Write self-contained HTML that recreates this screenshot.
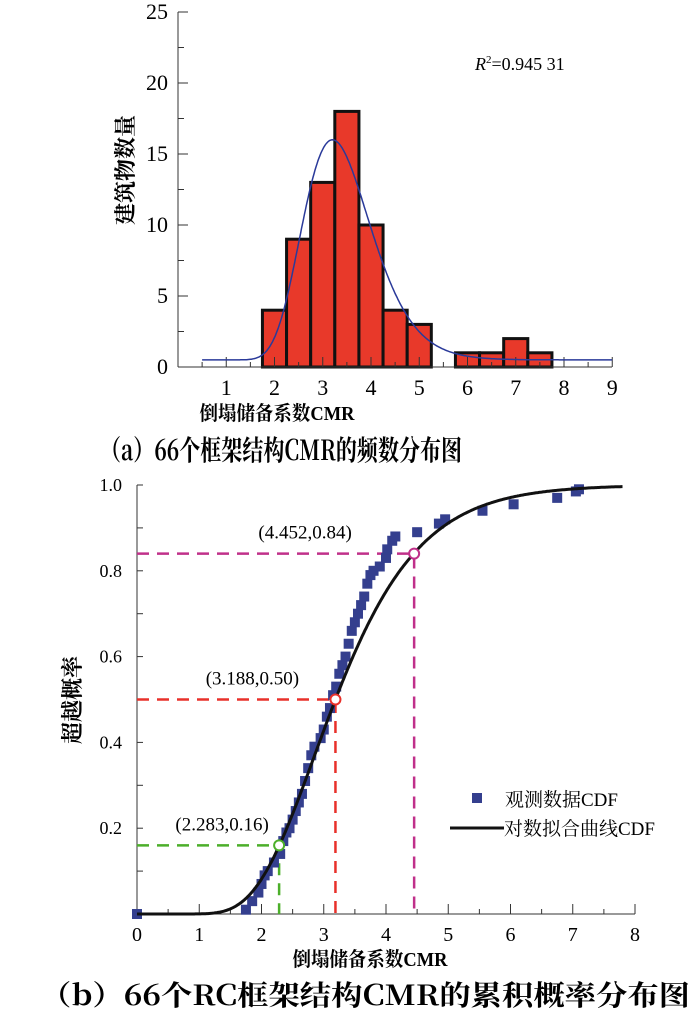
<!DOCTYPE html>
<html><head><meta charset="utf-8"><style>
body{margin:0;background:#fff;}
svg{display:block;font-family:"Liberation Serif","Noto Serif CJK SC",serif;}
</style></head><body>
<svg id="svg" width="700" height="1017" viewBox="0 0 700 1017" xmlns="http://www.w3.org/2000/svg">
<g id="top"></g>
<g id="bot"></g>
<text x="133" y="170" font-size="22" font-weight="bold" text-anchor="middle" transform="rotate(-90 133 170)" font-family="Noto Serif CJK SC,serif">建筑物数量</text>
<text x="277" y="420" font-size="20" text-anchor="middle" textLength="155" lengthAdjust="spacingAndGlyphs" font-weight="bold">倒塌储备系数CMR</text>
<text x="281" y="460" font-size="28" text-anchor="middle" textLength="362" lengthAdjust="spacingAndGlyphs" font-weight="bold" font-family="Noto Serif CJK SC,serif">（a）66个框架结构CMR的频数分布图</text>
<text x="475" y="70" font-size="18"><tspan font-style="italic">R</tspan><tspan font-size="11" dy="-7">2</tspan><tspan dy="7">=0.945 31</tspan></text>
<text x="80" y="700" font-size="22" font-weight="bold" text-anchor="middle" transform="rotate(-90 80 700)" font-family="Noto Serif CJK SC,serif">超越概率</text>
<text x="370" y="966" font-size="20" text-anchor="middle" textLength="155" lengthAdjust="spacingAndGlyphs" font-weight="bold">倒塌储备系数CMR</text>
<text x="365" y="1005" font-size="28" text-anchor="middle" textLength="650" lengthAdjust="spacingAndGlyphs" font-weight="bold" font-family="Noto Serif CJK SC,serif">（b）66个RC框架结构CMR的累积概率分布图</text>
</svg>
<script>
const NS="http://www.w3.org/2000/svg";
// histogram data
const binStarts=[1.75,2.25,2.75,3.25,3.75,4.25,4.75,5.75,6.25,6.75,7.25];
const binCounts=[4,9,13,18,10,4,3,1,1,2,1];
const binWidth=0.5;
const histXTicks=[1,2,3,4,5,6,7,8,9];
const histYTicks=[0,5,10,15,20,25];
const fitPeak=16;
const fitMedian=3.36, fitSigma=0.22, fitBase=0.5;
// cdf data
const obsX=[0,1.75,1.85,1.95,2.0,2.05,2.1,2.2,2.3,2.35,2.4,2.45,2.5,2.55,2.6,2.65,2.7,2.75,2.8,2.85,2.95,3.0,3.05,3.1,3.15,3.2,3.25,3.3,3.35,3.4,3.45,3.5,3.55,3.6,3.65,3.7,3.75,3.8,3.9,4.0,4.02,4.1,4.15,4.5,4.85,4.95,5.55,6.05,6.75,7.05,7.1];
const obsY=[0,0.01,0.03,0.05,0.07,0.09,0.1,0.12,0.14,0.17,0.19,0.2,0.22,0.24,0.26,0.28,0.31,0.34,0.37,0.39,0.41,0.43,0.46,0.48,0.51,0.53,0.56,0.58,0.6,0.63,0.66,0.68,0.7,0.72,0.74,0.77,0.79,0.8,0.81,0.83,0.85,0.87,0.88,0.89,0.91,0.92,0.94,0.955,0.97,0.985,0.99];
const cdfXTicks=[0,1,2,3,4,5,6,7,8];
const cdfYTicks=[0.2,0.4,0.6,0.8,1.0];
const median=3.188, sigma=0.334;
const markX=[2.283,3.188,4.452];
const markY=[0.16,0.50,0.84];
const markColors=["#4caf2a","#e8302a","#c0308a"];
const labelShift=[-57,-83,-109];

function el(p,t,a){const e=document.createElementNS(NS,t);for(const k in a)e.setAttribute(k,a[k]);p.appendChild(e);return e;}
function erf(x){const s=x<0?-1:1;x=Math.abs(x);const t=1/(1+0.3275911*x);const y=1-(((((1.061405429*t-1.453152027)*t)+1.421413741)*t-0.284496736)*t+0.254829592)*t*Math.exp(-x*x);return s*y;}
function cdf(x){return x<=0?0:0.5*(1+erf(Math.log(x/median)/(sigma*Math.SQRT2)));}
function pdf(x,m,s){return x<=0?0:Math.exp(-Math.pow(Math.log(x/m),2)/(2*s*s))/(x*s*Math.sqrt(2*Math.PI));}

// top chart
const T=document.getElementById('top');
const hx=v=>178+v*48.25, hy=v=>367-v*14.2;
binStarts.forEach((b,i)=>{
 const r=el(T,'rect',{x:hx(b),y:hy(binCounts[i]),width:binWidth*48.25,height:binCounts[i]*14.2,fill:'#e8392a',stroke:'#111','stroke-width':3});
 
 
});
el(T,'line',{x1:178,y1:367,x2:612,y2:367,stroke:'#333','stroke-width':1});
el(T,'line',{x1:178,y1:12,x2:178,y2:367,stroke:'#333','stroke-width':1});
for(let v=0;v<=25;v+=2.5){el(T,'line',{x1:178,y1:hy(v),x2:v%5==0?188:184,y2:hy(v),stroke:'#333'});}
histYTicks.forEach(v=>{const t=el(T,'text',{x:168,y:hy(v)+7,'font-size':22,'text-anchor':'end'});t.textContent=v;
 
 });
for(let v=0.5;v<=9;v+=0.5){el(T,'line',{x1:hx(v),y1:367,x2:hx(v),y2:v%1==0?357:362,stroke:'#333'});}
histXTicks.forEach(v=>{const t=el(T,'text',{x:hx(v),y:395,'font-size':22,'text-anchor':'middle'});t.textContent=v;
 
 });
const mode=fitMedian*Math.exp(-fitSigma*fitSigma);
let A=(fitPeak-fitBase)/pdf(mode,fitMedian,fitSigma), d='';
for(let x=0.5;x<=9;x+=0.02){d+=(d?'L':'M')+hx(x).toFixed(1)+','+hy(fitBase+A*pdf(x,fitMedian,fitSigma)).toFixed(1);}
const fit=el(T,'path',{d:d,fill:'none',stroke:'#2a3a9a','stroke-width':1.5});



// bottom chart
const B=document.getElementById('bot');
const cx=v=>137+v*62.25, cy=v=>914-v*429;
el(B,'line',{x1:137,y1:914,x2:635,y2:914,stroke:'#333'});
el(B,'line',{x1:137,y1:485,x2:137,y2:914,stroke:'#333'});
for(let v=0;v<=1.001;v+=0.1){el(B,'line',{x1:137,y1:cy(v),x2:143,y2:cy(v),stroke:'#333'});}
cdfYTicks.forEach(v=>{const t=el(B,'text',{x:122,y:cy(v)+6,'font-size':18,'text-anchor':'end'});t.textContent=v.toFixed(1);
 
 });
for(let v=0.5;v<=8;v+=0.5){el(B,'line',{x1:cx(v),y1:914,x2:cx(v),y2:v%1==0?904:909,stroke:'#333'});}
cdfXTicks.forEach(v=>{const t=el(B,'text',{x:cx(v),y:941,'font-size':20,'text-anchor':'middle'});t.textContent=v;
 
 });
markX.forEach((x,i)=>{
 el(B,'path',{d:`M${cx(0)},${cy(markY[i])}H${cx(x)}V${cy(0)}`,fill:'none',stroke:markColors[i],'stroke-width':2.5,'stroke-dasharray':'12,8'});
});
obsX.forEach((x,i)=>{const r=el(B,'rect',{x:cx(x)-5,y:cy(obsY[i])-5,width:10,height:10,fill:'#343f8e'});
 
 });
d='';for(let x=0;x<=7.8;x+=0.02){d+=(d?'L':'M')+cx(x).toFixed(1)+','+cy(cdf(x)).toFixed(1);}
const fc=el(B,'path',{d:d,fill:'none',stroke:'#111','stroke-width':3});


markX.forEach((x,i)=>{
 const c=el(B,'circle',{cx:cx(x),cy:cy(markY[i]),r:5,fill:'#fff',stroke:markColors[i],'stroke-width':2});
 
 
 const t=el(B,'text',{x:cx(x)+labelShift[i],y:cy(markY[i])-15,'font-size':19,'text-anchor':'middle'});
 t.textContent='('+x.toFixed(3)+','+markY[i].toFixed(2)+')';
 
 
});
const lg=el(B,'g',{});


el(lg,'rect',{x:472,y:793,width:10,height:10,fill:'#343f8e'});
let t1=el(lg,'text',{x:505,y:806,'font-size':19});t1.textContent='观测数据CDF';
el(lg,'line',{x1:450,y1:828,x2:504,y2:828,stroke:'#111','stroke-width':3});
let t2=el(lg,'text',{x:504,y:835,'font-size':19});t2.textContent='对数拟合曲线CDF';
</script>
</body></html>
